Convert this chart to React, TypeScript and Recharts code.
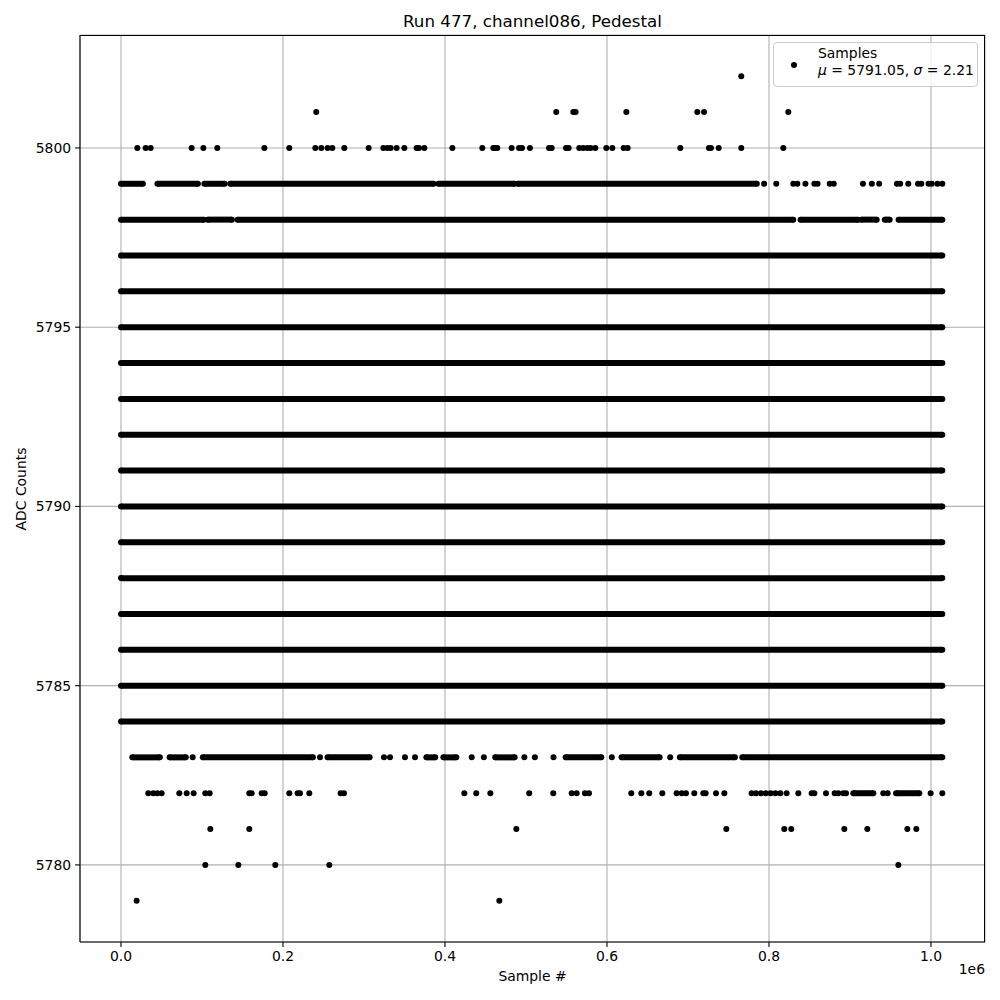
import React from 'react';
import {
  ScatterChart,
  Scatter,
  XAxis,
  YAxis,
  CartesianGrid,
} from 'recharts';

// sample index range of the run
const FIRST_SAMPLE = 0;
const LAST_SAMPLE = 1014000;

// ADC values that are hit on (almost) every stretch of the run
const solidRows = [5784, 5785, 5786, 5787, 5788, 5789, 5790, 5791, 5792, 5793, 5794, 5795, 5796, 5797];

// partly filled rows: [start, end] stretches, plus isolated samples
const row5799Runs = [[0, 27000], [45000, 95000], [103000, 128000], [135000, 386000], [392000, 486000], [490000, 785000]];
const row5799Points = [794000, 809000, 830000, 835000, 845000, 856000, 860000, 875000, 880000, 916000, 927000, 936000, 958000, 962000, 972000, 984000, 988000, 997000, 1001000, 1008000, 1014000];

const row5798Runs = [[0, 102000], [107000, 137000], [144000, 830000], [839000, 910000], [914000, 933000], [943000, 949000], [960000, 1014000]];

const row5783Runs = [[14000, 48000], [60000, 80000], [101000, 237000], [255000, 307000], [377000, 388000], [398000, 414000], [462000, 486000], [549000, 593000], [618000, 665000], [690000, 758000], [767000, 1014000]];
const row5783Points = [88500, 245700, 324700, 332100, 350600, 363000, 433000, 448000, 498000, 511000, 534000, 606000, 678000];

const row5782Runs = [[904100, 928800], [956800, 985600]];
const row5782Points = [
  33700, 39900, 44800, 50200, 72000, 81100, 89700, 104100, 109500, 158400, 161300, 173700, 177400,
  207800, 218100, 221000, 232500, 271200, 275300, 423900, 438600, 456000, 504000, 533700, 556400,
  562600, 572800, 577800, 630000, 642400, 652200, 668300, 686000, 692200, 697500, 707800, 718900,
  721800, 734600, 744900, 778600, 784000, 790000, 796000, 802000, 808000, 814000, 821800,
  836200, 852700, 856000, 870400, 881100, 885600, 891800, 895100, 941100,
  946500, 999600, 1014000,
];

// sparse rows: isolated samples only
const row5781Points = [110300, 158400, 488100, 747300, 818900, 827500, 893000, 921400, 970800, 981900];
const row5780Points = [104100, 144900, 190500, 257200, 959700];
const row5779Points = [19300, 467100];
const row5800Points = [
  20200, 30500, 36600, 87200, 101700, 118900, 177000, 207800, 239900, 247300, 255100, 260900,
  275700, 305800, 323900, 328800, 332900, 340300, 349800, 365000, 367900, 374500, 409100, 446100,
  459700, 462200, 464600, 482300, 491400, 495100, 504900, 528400, 531700, 549400, 552700, 565800,
  570800, 575700, 579800, 585600, 599200, 606600, 620600, 625500, 690500, 725900, 728400, 737900,
  765800, 817700,
];
const row5801Points = [241100, 537400, 558400, 561300, 623900, 711500, 719800, 823900];
const row5802Points = [765800];

const xTicks = [0, 200000, 400000, 600000, 800000, 1000000];
const yTicks = [5780, 5785, 5790, 5795, 5800];

const runRows = [
  ...solidRows.map((y) => ({ y, runs: [[FIRST_SAMPLE, LAST_SAMPLE]] })),
  { y: 5799, runs: row5799Runs },
  { y: 5798, runs: row5798Runs },
  { y: 5783, runs: row5783Runs },
  { y: 5782, runs: row5782Runs },
];

const pointRows = [
  { y: 5799, xs: row5799Points },
  { y: 5783, xs: row5783Points },
  { y: 5782, xs: row5782Points },
  { y: 5781, xs: row5781Points },
  { y: 5780, xs: row5780Points },
  { y: 5779, xs: row5779Points },
  { y: 5800, xs: row5800Points },
  { y: 5801, xs: row5801Points },
  { y: 5802, xs: row5802Points },
];

const FONT = '"DejaVu Sans", sans-serif';
const W = 1000;
const H = 1000;
const PLOT = { left: 80, top: 35, right: 985, bottom: 942 };

const Dot = (props: any) => {
  if (props.cx == null || props.cy == null) return null;
  return <circle cx={props.cx} cy={props.cy} r={3} fill="#000" />;
};

const tickStyle = { fontSize: 13.9, fill: '#000', fontFamily: FONT };

export default function App() {
  return (
    <div style={{ position: 'absolute', left: 0, top: 0, width: W, height: H, background: '#fff', fontFamily: FONT }}>
      <ScatterChart
        width={W}
        height={H}
        margin={{ top: PLOT.top, right: W - PLOT.right, bottom: 0, left: 0 }}
      >
        <CartesianGrid stroke="#b0b0b0" strokeWidth={1.1} />
        <XAxis
          type="number"
          dataKey="x"
          domain={[-50600, 1066700]}
          allowDataOverflow
          ticks={xTicks}
          tickFormatter={(v: number) => (v / 1e6).toFixed(1)}
          height={H - PLOT.bottom}
          tick={tickStyle}
          tickSize={4.9}
          tickMargin={4}
          stroke="#000"
          axisLine={{ stroke: '#000', strokeWidth: 1.1 }}
          tickLine={{ stroke: '#000', strokeWidth: 1.1 }}
        />
        <YAxis
          type="number"
          dataKey="y"
          domain={[5777.85, 5803.15]}
          allowDataOverflow
          ticks={yTicks}
          width={PLOT.left}
          tick={tickStyle}
          tickSize={4.9}
          tickMargin={4}
          stroke="#000"
          axisLine={{ stroke: '#000', strokeWidth: 1.1 }}
          tickLine={{ stroke: '#000', strokeWidth: 1.1 }}
        />
        {runRows.flatMap((row) =>
          row.runs.map((r, i) => (
            <Scatter
              key={`run-${row.y}-${i}`}
              data={[{ x: r[0], y: row.y }, { x: r[1], y: row.y }]}
              line={{ stroke: '#000', strokeWidth: 6 }}
              lineType="joint"
              shape={Dot}
              fill="#000"
              isAnimationActive={false}
            />
          ))
        )}
        {pointRows.map((row) => (
          <Scatter
            key={`pts-${row.y}`}
            data={row.xs.map((x) => ({ x, y: row.y }))}
            shape={Dot}
            fill="#000"
            isAnimationActive={false}
          />
        ))}
      </ScatterChart>

      {/* top and right spines */}
      <div style={{
        position: 'absolute', left: PLOT.left, top: PLOT.top,
        width: PLOT.right - PLOT.left, height: PLOT.bottom - PLOT.top,
        borderTop: '1px solid #000', borderRight: '1px solid #000',
        boxSizing: 'border-box', pointerEvents: 'none',
      }} />

      <div style={{
        position: 'absolute', left: PLOT.left, width: PLOT.right - PLOT.left, top: 11,
        textAlign: 'center', fontSize: 16.7, color: '#000', lineHeight: '20px',
      }}>
        Run 477, channel086, Pedestal
      </div>

      <div style={{
        position: 'absolute', left: PLOT.left, width: PLOT.right - PLOT.left, top: 968,
        textAlign: 'center', fontSize: 13.9, color: '#000', lineHeight: '16px',
      }}>
        Sample #
      </div>

      <div style={{
        position: 'absolute', right: W - PLOT.right, top: 961,
        fontSize: 13.9, color: '#000', lineHeight: '16px',
      }}>
        1e6
      </div>

      <div style={{
        position: 'absolute', left: 21, top: (PLOT.top + PLOT.bottom) / 2,
        transform: 'translate(-50%, -50%) rotate(-90deg)', whiteSpace: 'nowrap',
        fontSize: 13.9, color: '#000', lineHeight: '16px',
      }}>
        ADC Counts
      </div>

      {/* legend */}
      <div style={{
        position: 'absolute', left: 773, top: 42, width: 205, height: 45,
        boxSizing: 'border-box', border: '1px solid #cccccc', borderRadius: 4,
        background: 'rgba(255,255,255,0.8)', color: '#000', fontSize: 13.9,
      }}>
        <div style={{
          position: 'absolute', left: 17, top: 19, width: 6, height: 6,
          borderRadius: '50%', background: '#000',
        }} />
        <div style={{ position: 'absolute', left: 44, top: 2, lineHeight: '17px', whiteSpace: 'nowrap' }}>
          Samples
          <br />
          <i>μ</i> = 5791.05, <i>σ</i> = 2.21
        </div>
      </div>
    </div>
  );
}
